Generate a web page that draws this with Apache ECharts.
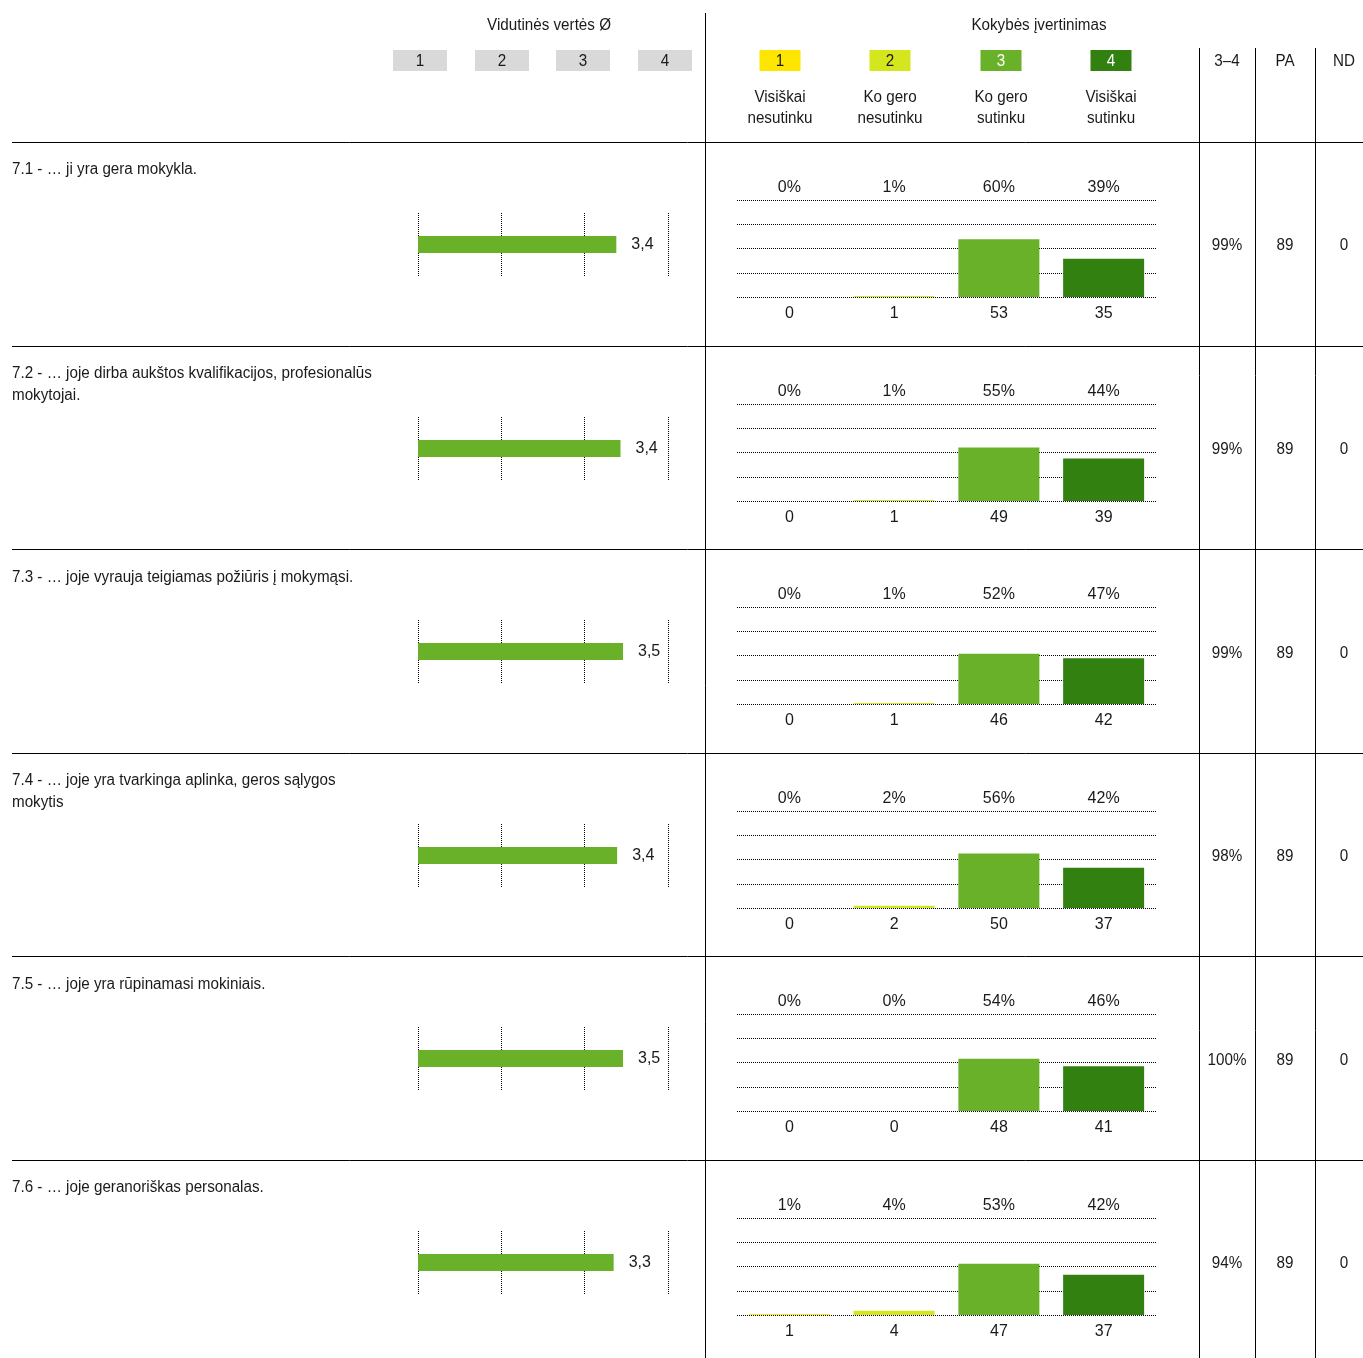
<!DOCTYPE html>
<html>
<head>
<meta charset="utf-8">
<script src="https://cdn.jsdelivr.net/npm/echarts@6/dist/echarts.min.js"></script>
<style>
html,body{margin:0;padding:0;background:#fff;}
#c{width:1363px;height:1358px;}
</style>
</head>
<body>
<div id="c"></div>
<script>
// ---------- data ----------
const rowLabels = [
  '7.1 - … ji yra gera mokykla.',
  '7.2 - … joje dirba aukštos kvalifikacijos, profesionalūs\nmokytojai.',
  '7.3 - … joje vyrauja teigiamas požiūris į mokymąsi.',
  '7.4 - … joje yra tvarkinga aplinka, geros sąlygos\nmokytis',
  '7.5 - … joje yra rūpinamasi mokiniais.',
  '7.6 - … joje geranoriškas personalas.'
];
const meanValues = [3.38, 3.43, 3.46, 3.39, 3.46, 3.348];
const meanTicks = ['1', '2', '3', '4'];
const answerCodes = ['1', '2', '3', '4'];
const answerNames = ['Visiškai\nnesutinku', 'Ko gero\nnesutinku', 'Ko gero\nsutinku', 'Visiškai\nsutinku'];
const answerColors = ['#FFE600', '#D4E61E', '#6AB12A', '#318010'];
const countsR1 = [0, 1, 53, 35];
const countsR2 = [0, 1, 49, 39];
const countsR3 = [0, 1, 46, 42];
const countsR4 = [0, 2, 50, 37];
const countsR5 = [0, 0, 48, 41];
const countsR6 = [1, 4, 47, 37];
const counts = [countsR1, countsR2, countsR3, countsR4, countsR5, countsR6];
const pctR1 = [0, 1, 60, 39];
const pctR2 = [0, 1, 55, 44];
const pctR3 = [0, 1, 52, 47];
const pctR4 = [0, 2, 56, 42];
const pctR5 = [0, 0, 54, 46];
const pctR6 = [1, 4, 53, 42];
const pcts = [pctR1, pctR2, pctR3, pctR4, pctR5, pctR6];
const agree34 = ['99%', '99%', '99%', '98%', '100%', '94%'];
const paValues = [89, 89, 89, 89, 89, 89];
const ndValues = [0, 0, 0, 0, 0, 0];
const totalN = 89;
const colHeaders = ['3–4', 'PA', 'ND'];

// ---------- layout ----------
const FONT = '"Liberation Sans Narrow", "Liberation Sans", Arial, sans-serif';
const TXT = '#1a1a1a';
const NARROW = 0.95;
const rowTop0 = 142, rowH = 203.6;
const rowTops = rowLabels.map((_, i) => rowTop0 + i * rowH);

const grids = [], xAxes = [], yAxes = [], series = [], graphics = [];

function txt(x, y, text, opt) {
  opt = opt || {};
  graphics.push({
    type: 'text', x: x, y: y, silent: true, scaleX: NARROW,
    style: Object.assign({
      text: text, fill: TXT, font: '16px ' + FONT,
      align: 'center', verticalAlign: 'middle', lineHeight: 21
    }, opt)
  });
}
function line(x1, y1, x2, y2, w) {
  graphics.push({
    type: 'line', silent: true,
    shape: { x1: x1, y1: y1, x2: x2, y2: y2 },
    style: { stroke: '#000', lineWidth: w || 1 }
  });
}

// header
txt(549, 26, 'Vidutinės vertės Ø');
txt(1039, 26, 'Kokybės įvertinimas');
const grayCenters = [420, 502, 583, 665];
meanTicks.forEach((t, i) => {
  graphics.push({ type: 'rect', silent: true, shape: { x: grayCenters[i] - 27, y: 50, width: 54, height: 21 }, style: { fill: '#D9D9D9' } });
  txt(grayCenters[i], 62, t);
});
const colCenters = [780, 890, 1001, 1111];
answerCodes.forEach((t, i) => {
  graphics.push({ type: 'rect', silent: true, shape: { x: colCenters[i] - 20.5, y: 50, width: 41, height: 21 }, style: { fill: answerColors[i] } });
  txt(colCenters[i], 62, t, { fill: i >= 2 ? '#fff' : TXT });
  txt(colCenters[i], 108, answerNames[i]);
});
const rightCenters = [1227, 1285, 1344];
colHeaders.forEach((t, i) => txt(rightCenters[i], 62, t));

// structural lines
line(705.5, 13, 705.5, 1358);
[1199.5, 1255.5, 1315.5].forEach(x => line(x, 48, x, 1358));
rowTops.forEach(y => line(12, Math.round(y) + 0.5, 1363, Math.round(y) + 0.5));

const dotted = { show: true, lineStyle: { type: [1, 1], color: '#000', width: 1 } };

rowLabels.forEach((lab, i) => {
  const top = rowTops[i];
  txt(12, top + 17, lab, { align: 'left', verticalAlign: 'top', lineHeight: 22 });
  txt(rightCenters[0], top + 104, agree34[i]);
  txt(rightCenters[1], top + 104, String(paValues[i]));
  txt(rightCenters[2], top + 104, String(ndValues[i]));

  // mean grid
  const gm = grids.length;
  grids.push({ left: 418, width: 250, top: Math.round(top) + 71, height: 63 });
  xAxes.push({
    type: 'value', gridIndex: gm, min: 1, max: 4, interval: 1,
    axisLine: { show: false }, axisTick: { show: false }, axisLabel: { show: false },
    splitLine: dotted
  });
  yAxes.push({
    type: 'category', gridIndex: gm, data: ['m'],
    axisLine: { show: false }, axisTick: { show: false }, axisLabel: { show: false }, splitLine: { show: false }
  });
  series.push({
    type: 'bar', xAxisIndex: xAxes.length - 1, yAxisIndex: yAxes.length - 1,
    data: [meanValues[i]], barWidth: 17,
    itemStyle: { color: '#6AB12A' },
    label: {
      show: true, position: 'right', distance: 15, color: TXT, fontFamily: FONT, fontSize: 16,
      formatter: p => p.value.toFixed(1).replace('.', ',')
    },
    silent: true, animation: false
  });

  // distribution grid
  const gd = grids.length;
  grids.push({ left: 737, width: 419, top: Math.round(top) + 58, height: 97 });
  const cnt = counts[i], pc = pcts[i];
  xAxes.push({
    type: 'category', gridIndex: gd, data: answerCodes, position: 'bottom',
    axisLine: { show: false }, axisTick: { show: false },
    axisLabel: { show: true, margin: 9, color: TXT, fontFamily: FONT, fontSize: 16, formatter: (v, idx) => String(cnt[idx]) }
  });
  const xb = xAxes.length - 1;
  xAxes.push({
    type: 'category', gridIndex: gd, data: answerCodes, position: 'top',
    axisLine: { show: false }, axisTick: { show: false },
    axisLabel: { show: true, margin: 4, color: TXT, fontFamily: FONT, fontSize: 16, formatter: (v, idx) => pc[idx] + '%' }
  });
  yAxes.push({
    type: 'value', gridIndex: gd, min: 0, max: totalN, interval: totalN / 4,
    axisLine: { show: false }, axisTick: { show: false }, axisLabel: { show: false },
    splitLine: dotted
  });
  series.push({
    type: 'bar', xAxisIndex: xb, yAxisIndex: yAxes.length - 1,
    data: cnt.map((v, k) => ({ value: v, itemStyle: { color: answerColors[k] } })),
    barWidth: 81, silent: true, animation: false
  });
});

const chart = echarts.init(document.getElementById('c'), null, { renderer: 'canvas' });
chart.setOption({
  animation: false,
  backgroundColor: '#fff',
  textStyle: { fontFamily: FONT },
  grid: grids, xAxis: xAxes, yAxis: yAxes, series: series,
  graphic: { elements: graphics }
});
</script>
</body>
</html>
